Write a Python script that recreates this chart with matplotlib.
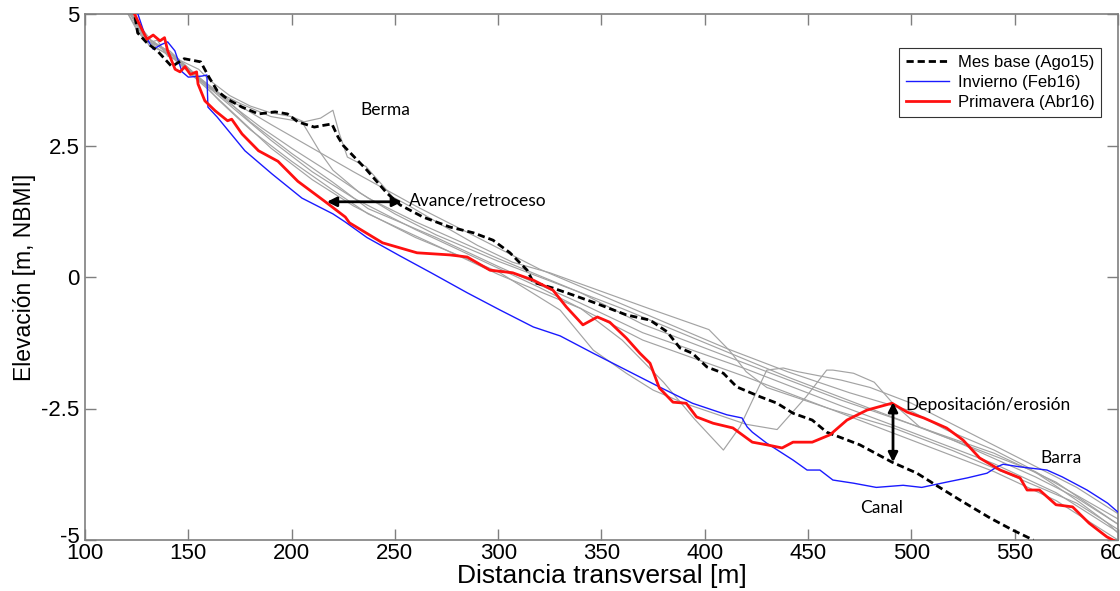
import matplotlib
matplotlib.use("Agg")
import matplotlib.pyplot as plt
import matplotlib.transforms as mtransforms

# ---------------- data ----------------
base_x = [118, 124, 125.5, 130, 135, 142, 148, 156, 160, 164, 169, 176, 184, 192, 198, 203, 211,
          215, 219.5, 222.5, 225, 236.5, 246, 252.5, 263.6, 276.6, 288, 297.5, 305.7, 314, 317,
          326.5, 336, 346, 362, 373.5, 381.7, 388, 394, 401, 409, 415.5, 427, 435, 442.7, 452,
          459, 469, 475, 490.6, 502.7, 512, 523.5, 538, 549, 559]
base_y = [5.3, 5.0, 4.64, 4.45, 4.3, 4.0, 4.15, 4.09, 3.8, 3.54, 3.38, 3.23, 3.1, 3.14, 3.1, 2.95,
          2.85, 2.88, 2.91, 2.66, 2.5, 2.03, 1.6, 1.37, 1.14, 0.95, 0.84, 0.7, 0.46, 0.13, -0.1,
          -0.21, -0.34, -0.48, -0.72, -0.82, -1.04, -1.35, -1.45, -1.71, -1.83, -2.09, -2.28, -2.4,
          -2.59, -2.72, -2.95, -3.1, -3.19, -3.52, -3.73, -3.96, -4.24, -4.58, -4.81, -5.0]

winter_x = [120, 125.6, 129, 133, 137, 140, 143.5, 147, 150, 156.6, 159, 159.5, 164, 177.4, 190.5,
            205, 220, 225.8, 236.5, 252.5, 268, 285, 301, 317, 330, 346, 362, 378, 394, 410.7, 418,
            420.5, 423, 430, 442.7, 449.5, 455.7, 462, 472, 483, 496, 505, 517, 527, 536.6, 541.4,
            544.4, 552.6, 565.6, 573, 585, 595, 600]
winter_y = [5.4, 5.0, 4.6, 4.33, 4.42, 4.47, 4.3, 3.9, 3.8, 3.82, 3.84, 3.23, 3.04, 2.4, 1.96,
            1.5, 1.2, 1.05, 0.75, 0.4, 0.07, -0.3, -0.63, -0.95, -1.12, -1.45, -1.77, -2.09,
            -2.4, -2.62, -2.68, -2.85, -2.95, -3.16, -3.48, -3.67, -3.67, -3.86, -3.92, -4.0,
            -3.96, -4.0, -3.9, -3.82, -3.73, -3.61, -3.56, -3.61, -3.67, -3.8, -4.05, -4.3, -4.47]

spring_x = [118, 124, 127, 130, 133, 136.3, 138.5, 140, 143.6, 146, 148.4, 151, 154, 154.7, 158,
            163, 169, 171, 176, 184, 193.4, 203, 216, 226, 228, 244, 260.7, 276.6, 285, 296, 307,
            317, 326.5, 333, 341, 348, 354, 362, 368.6, 373.5, 378, 384.6, 391, 396, 404, 413.6,
            423, 430, 437.4, 442.7, 452, 460.6, 468.8, 478.5, 490.6, 498, 506, 517, 525, 533, 543,
            552.6, 556, 562, 570, 578, 586, 594.6, 600]
spring_y = [5.4, 5.0, 4.75, 4.52, 4.6, 4.49, 4.55, 4.3, 3.95, 3.9, 4.0, 3.85, 3.9, 3.67, 3.35,
            3.16, 2.97, 3.0, 2.72, 2.4, 2.2, 1.82, 1.44, 1.14, 1.03, 0.65, 0.46, 0.42, 0.38, 0.13,
            0.08, -0.06, -0.25, -0.57, -0.91, -0.76, -0.86, -1.16, -1.45, -1.64, -2.11, -2.38,
            -2.4, -2.66, -2.78, -2.87, -3.14, -3.19, -3.25, -3.14, -3.14, -3.0, -2.72, -2.53,
            -2.4, -2.57, -2.68, -2.87, -3.1, -3.44, -3.67, -3.82, -4.05, -4.05, -4.33, -4.37,
            -4.68, -4.94, -5.05]

gray_a_x = [118, 125, 130, 135, 140, 147, 155, 160, 170, 180, 190, 200, 206, 214, 220, 223, 227,
            236, 249, 257, 270, 290, 307, 325, 373, 402, 412, 420, 430, 460, 490, 520, 550, 580, 600]
gray_a_y = [5.2, 4.7, 4.45, 4.5, 4.2, 4.1, 3.95, 3.75, 3.45, 3.25, 3.12, 3.05, 2.95, 3.02, 3.17,
            2.74, 2.28, 2.1, 1.52, 1.35, 1.05, 0.6, 0.28, 0.08, -0.6, -1.0, -1.4, -1.8, -2.1,
            -2.5, -2.85, -3.3, -3.8, -4.3, -4.8]

gray_b_x = [118, 127, 135, 145, 155, 165, 175, 190, 205, 214, 220, 233, 250, 270, 300, 330, 360,
            400, 440, 480, 520, 560, 600]
gray_b_y = [5.2, 4.6, 4.35, 4.1, 3.8, 3.5, 3.3, 3.05, 2.95, 2.36, 2.03, 1.6, 1.2, 0.8, 0.3, -0.15,
            -0.6, -1.25, -1.9, -2.5, -3.1, -3.7, -4.6]

gray_c_x = [120, 130, 140, 150, 160, 175, 190, 210, 230, 260, 290, 320, 340, 360, 380, 395, 409,
            417, 430, 438, 445, 466, 480, 500, 520, 550, 580, 600]
gray_c_y = [5.2, 4.5, 4.3, 3.95, 3.6, 3.1, 2.6, 2.0, 1.5, 0.9, 0.35, -0.2, -0.6, -1.2, -2.0, -2.7,
            -3.29, -2.85, -1.77, -1.73, -1.8, -1.96, -2.1, -2.4, -2.8, -3.4, -4.0, -4.5]

gray_d_x = [120, 130, 140, 150, 160, 175, 190, 210, 230, 260, 300, 330, 346, 362, 375, 390, 405,
            420, 435, 449, 459, 462, 472, 482, 491, 504, 520, 540, 560, 580, 600]
gray_d_y = [5.1, 4.55, 4.25, 3.9, 3.55, 3.0, 2.45, 1.85, 1.35, 0.75, 0.1, -0.63, -1.39, -1.83,
            -2.15, -2.4, -2.6, -2.8, -2.9, -2.28, -1.77, -1.77, -1.83, -2.0, -2.4, -2.85, -3.1,
            -3.45, -3.8, -4.2, -4.7]

gray_e_x = [120, 128, 140, 150, 160, 175, 190, 210, 230, 260, 290, 320, 350, 380, 410, 440, 470,
            500, 517, 540, 556, 568, 582, 595, 600]
gray_e_y = [5.2, 4.6, 4.3, 3.9, 3.6, 3.25, 2.9, 2.45, 2.0, 1.35, 0.75, 0.15, -0.35, -0.85, -1.35,
            -1.8, -2.2, -2.55, -2.91, -3.29, -3.61, -3.92, -4.3, -4.68, -4.87]

gray_f_x = [120, 132, 145, 158, 170, 185, 200, 220, 237, 260, 300, 340, 370, 420, 466, 500, 540,
            570, 600]
gray_f_y = [5.1, 4.5, 4.15, 3.7, 3.3, 2.85, 2.45, 1.95, 1.5, 1.05, 0.35, -0.3, -0.9, -1.65, -2.34,
            -2.8, -3.35, -3.9, -4.7]

gray_g_x = [121, 131, 143, 156, 168, 180, 200, 220, 237, 270, 300, 340, 370, 420, 466, 500, 540,
            570, 600]
gray_g_y = [5.2, 4.4, 4.2, 3.75, 3.4, 2.95, 2.35, 1.8, 1.3, 0.75, 0.2, -0.5, -1.06, -1.75, -2.45,
            -2.95, -3.55, -4.1, -4.85]

gray_h_x = [119, 129, 141, 152, 165, 180, 200, 220, 237, 270, 300, 340, 370, 420, 466, 500, 540,
            570, 600]
gray_h_y = [5.2, 4.5, 4.3, 3.9, 3.35, 2.8, 2.2, 1.65, 1.2, 0.6, 0.05, -0.6, -1.2, -1.9, -2.59,
            -3.1, -3.7, -4.25, -5.0]

x_ticks = [100, 150, 200, 250, 300, 350, 400, 450, 500, 550, 600]
y_ticks = [-5, -2.5, 0, 2.5, 5]
y_tick_labels = ["-5", "-2.5", "0", "2.5", "5"]

legend_labels = ["Mes base (Ago15)", "Invierno (Feb16)", "Primavera (Abr16)"]

# ---------------- plot ----------------
plt.rcParams['font.family'] = ['Liberation Sans', 'DejaVu Sans']

fig = plt.figure(figsize=(11.2, 5.91), dpi=100)
ax = fig.add_axes([85 / 1120, 51 / 591, 1033 / 1120, 526 / 591])

gray_col = '#a3a3a3'
for gx, gy in [(gray_a_x, gray_a_y), (gray_b_x, gray_b_y), (gray_c_x, gray_c_y),
               (gray_d_x, gray_d_y), (gray_e_x, gray_e_y), (gray_f_x, gray_f_y),
               (gray_g_x, gray_g_y), (gray_h_x, gray_h_y)]:
    ax.plot(gx, gy, color=gray_col, lw=0.85, zorder=2)

l1, = ax.plot(base_x, base_y, color='black', lw=2.0, ls=(0, (2.6, 1.4)), zorder=4)
l2, = ax.plot(winter_x, winter_y, color='#1a1aff', lw=1.0, zorder=3)
l3, = ax.plot(spring_x, spring_y, color='#ff1010', lw=2.0, zorder=5)

ax.set_xlim(100, 600)
ax.set_ylim(-5, 5)
ax.set_xticks(x_ticks)
ax.set_yticks(y_ticks)
ax.set_yticklabels(y_tick_labels)
ax.tick_params(direction='in', top=True, right=True, length=8, width=1,
               color='#7f7f7f', labelsize=16, pad=2)
ax.tick_params(axis='y', pad=4)
for s in ax.spines.values():
    s.set_color('#7f7f7f')
    s.set_linewidth(1.2)

# lift the bottom y tick label slightly, as in the reference
lbl = ax.get_yticklabels()[0]
lbl.set_transform(lbl.get_transform() +
                  mtransforms.ScaledTranslation(0, 5 / 100, fig.dpi_scale_trans))

ax.set_xlabel("Distancia transversal [m]", fontsize=19, labelpad=0)
ax.set_ylabel("Elevación [m, NBMI]", fontsize=16.5, labelpad=4)

leg = ax.legend([l1, l2, l3], legend_labels, loc='upper right',
                bbox_to_anchor=(0.9836, 0.935), borderaxespad=0, fontsize=12,
                frameon=True, fancybox=False, edgecolor='black', handlelength=2.6,
                handletextpad=0.5, labelspacing=0.3, borderpad=0.4)
leg.get_frame().set_linewidth(0.8)

ann_font = dict(family=['Lato', 'DejaVu Sans'], fontsize=12.5)
ax.text(233.1, 3.17, "Berma", va='center', ha='left', **ann_font)
ax.text(256.8, 1.46, "Avance/retroceso", va='center', ha='left', **ann_font)
ax.text(496.9, -2.43, "Depositación/erosión", va='center', ha='left', **ann_font)
ax.text(562.2, -3.44, "Barra", va='center', ha='left', **ann_font)
ax.text(475.2, -4.39, "Canal", va='center', ha='left', **ann_font)

arrow_kw = dict(arrowstyle='<|-|>', color='black', lw=2.0, mutation_scale=14,
                shrinkA=0, shrinkB=0)
ax.annotate("", xy=(217.1, 1.43), xytext=(253.4, 1.43), arrowprops=arrow_kw, zorder=6)
ax.annotate("", xy=(491.1, -2.38), xytext=(491.1, -3.52), arrowprops=arrow_kw, zorder=6)

fig.savefig("out.png", dpi=100)
